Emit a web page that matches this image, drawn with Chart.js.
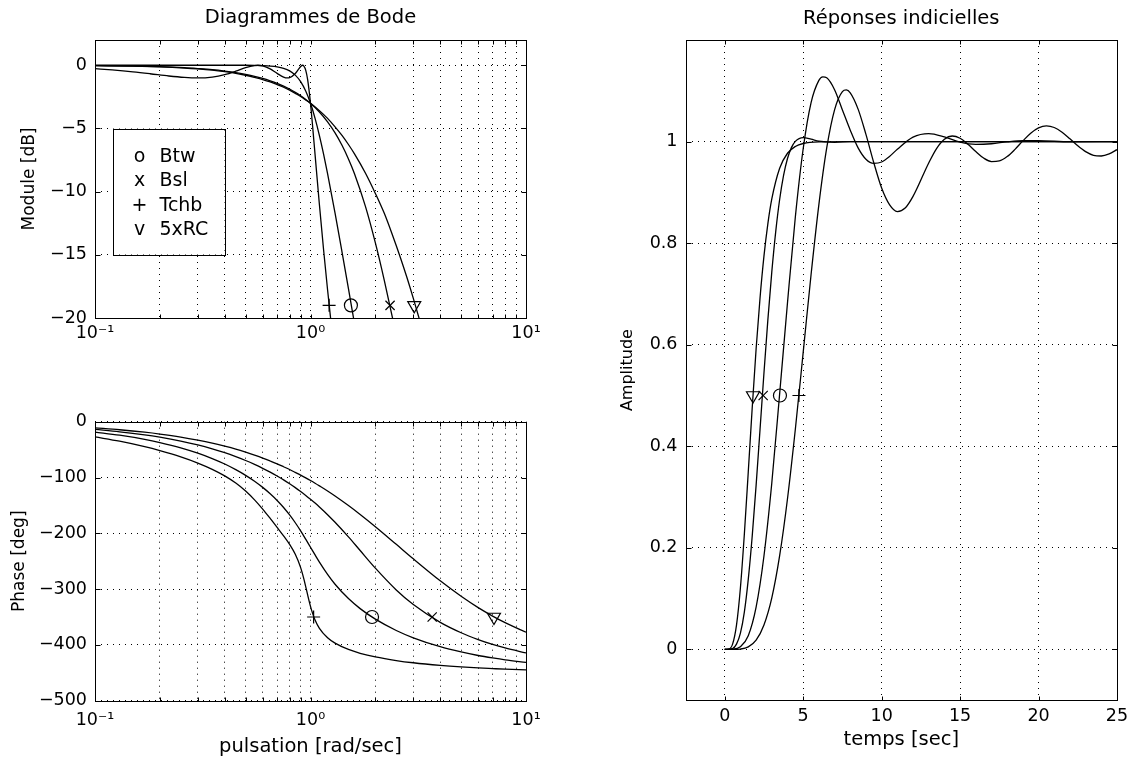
<!DOCTYPE html>
<html lang="fr">
<head>
    <meta charset="UTF-8">
    <title>Diagrammes de Bode et réponses indicielles</title>
    <script src="https://cdn.jsdelivr.net/npm/chart.js"></script>
    <style>
        body { margin: 0; background: #fff; }
        canvas { position: absolute; left: 0; top: 0; }
    </style>
</head>
<body>
    <canvas id="magChart" width="1137" height="762"></canvas>
    <canvas id="phaseChart" width="1137" height="762"></canvas>
    <canvas id="stepChart" width="1137" height="762"></canvas>

    <script>
        // ---- Module [dB] ----
        const wBtwMag = [0.1, 0.2, 0.3, 0.4, 0.5, 0.55, 0.6, 0.65, 0.7, 0.75, 0.8, 0.85, 0.9, 0.95, 1.0, 1.05, 1.1, 1.15, 1.2, 1.3, 1.4, 1.5, 1.6, 1.8];
        const magBtw = [0, 0, 0, 0, 0, -0.01, -0.03, -0.06, -0.12, -0.24, -0.44, -0.78, -1.30, -2.04, -3.01, -4.20, -5.56, -7.03, -8.57, -11.70, -14.76, -17.68, -20.45, -25.5];

        const wBslMag = [0.1, 0.15, 0.2, 0.26, 0.3, 0.35, 0.4, 0.45, 0.5, 0.55, 0.6, 0.65, 0.7, 0.75, 0.8, 0.85, 0.9, 0.95, 1.0, 1.1, 1.2, 1.3, 1.4, 1.5, 1.6, 1.8, 2.0, 2.2, 2.4, 2.6];
        const magBsl = [-0.03, -0.06, -0.11, -0.19, -0.26, -0.35, -0.46, -0.58, -0.72, -0.87, -1.04, -1.23, -1.43, -1.65, -1.88, -2.14, -2.41, -2.70, -3.01, -3.70, -4.48, -5.35, -6.33, -7.41, -8.58, -11.19, -14.06, -17.02, -19.97, -22.9];

        const wTchMag = [0.1, 0.12, 0.15, 0.18, 0.22, 0.26, 0.3, 0.35, 0.4, 0.45, 0.5, 0.55, 0.57, 0.6, 0.65, 0.7, 0.75, 0.78, 0.8, 0.85, 0.88, 0.9, 0.92, 0.93, 0.95, 0.97, 1.0, 1.02, 1.05, 1.1, 1.15, 1.2, 1.25, 1.3, 1.4];
        const magTch = [-0.27, -0.37, -0.52, -0.67, -0.85, -0.96, -1.00, -0.93, -0.74, -0.47, -0.19, -0.02, 0, -0.05, -0.29, -0.64, -0.93, -1.00, -0.98, -0.65, -0.31, -0.10, 0, -0.04, -0.38, -1.14, -3.01, -4.59, -7.07, -11.04, -14.60, -17.76, -20.6, -23.2, -27.8];

        const wRcMag = [0.1, 0.15, 0.2, 0.26, 0.3, 0.35, 0.4, 0.45, 0.5, 0.55, 0.6, 0.65, 0.7, 0.75, 0.8, 0.85, 0.9, 0.95, 1.0, 1.1, 1.2, 1.3, 1.4, 1.5, 1.6, 1.8, 2.0, 2.2, 2.4, 2.6, 2.8, 3.0, 3.2, 3.4];
        const magRc = [-0.03, -0.07, -0.13, -0.22, -0.29, -0.39, -0.51, -0.64, -0.79, -0.96, -1.13, -1.32, -1.53, -1.74, -1.97, -2.22, -2.47, -2.74, -3.01, -3.59, -4.20, -4.87, -5.55, -6.27, -7.01, -8.54, -10.14, -11.72, -13.43, -15.11, -16.78, -18.45, -20.09, -21.72];

        // ---- Phase [deg] ----
        const wPhase = [0.1, 0.13, 0.17, 0.2, 0.25, 0.3, 0.35, 0.4, 0.45, 0.5, 0.55, 0.6, 0.65, 0.7, 0.75, 0.8, 0.85, 0.9, 0.95, 1.0, 1.05, 1.1, 1.2, 1.3, 1.5, 1.7, 2.0, 2.5, 3, 4, 5, 6, 7, 8, 10];
        const phBtw = [-18.6, -24.2, -31.6, -37.3, -46.7, -56.3, -66.0, -75.8, -85.9, -96.1, -106.7, -117.7, -129.1, -141.1, -153.7, -167.1, -181.1, -195.7, -210.5, -225.0, -238.8, -251.6, -273.6, -291.3, -317.0, -335.0, -353.9, -374.2, -387.3, -403.3, -412.7, -419.0, -423.4, -426.8, -431.4];
        const phBsl = [-13.9, -18.1, -23.6, -27.8, -34.8, -41.7, -48.7, -55.6, -62.6, -69.5, -76.5, -83.5, -90.4, -97.4, -104.3, -111.3, -118.2, -125.2, -132.1, -139.0, -145.9, -152.9, -166.6, -180.2, -206.4, -230.9, -262.5, -301.5, -327.7, -359.6, -378.2, -390.4, -399.1, -405.5, -414.5];
        const phRc = [-11.0, -14.4, -18.8, -22.1, -27.5, -33.0, -38.4, -43.9, -49.2, -54.6, -59.9, -65.1, -70.4, -75.5, -80.7, -85.7, -90.8, -95.7, -100.6, -105.4, -110.2, -115.0, -124.2, -133.2, -150.3, -166.3, -188.2, -219.8, -245.8, -285.2, -312.9, -333.2, -348.4, -360.2, -377.3];

        const wTchPh = [0.1, 0.13, 0.17, 0.2, 0.25, 0.3, 0.35, 0.4, 0.45, 0.5, 0.55, 0.6, 0.65, 0.7, 0.75, 0.8, 0.85, 0.9, 0.93, 0.95, 0.97, 1.0, 1.02, 1.05, 1.1, 1.2, 1.3, 1.5, 1.7, 2.0, 2.5, 3, 4, 5, 6, 7, 8, 10];
        const phTch = [-27.3, -35.0, -44.8, -51.9, -63.1, -74.1, -85.3, -97.1, -110.0, -124.3, -140.1, -156.7, -173.4, -189.4, -204.6, -220.0, -237.7, -261.5, -280.7, -295.4, -310.4, -330.9, -342.1, -355.4, -370.4, -387.3, -396.9, -408.2, -415.0, -421.5, -428.0, -432.0, -436.7, -439.5, -441.3, -442.5, -443.5, -444.8];

        // ---- Réponses indicielles ----
        const tBtw = [0, 0.5, 1, 1.5, 2, 2.5, 3, 3.5, 4, 4.5, 5, 5.5, 6, 6.25, 6.5, 7, 7.5, 8, 8.5, 9, 9.5, 10, 10.5, 11, 12, 13, 14, 15, 16, 17, 18, 19, 20, 22, 25];
        const stepBtw = [0, 0.0003, 0.0051, 0.027, 0.0833, 0.1839, 0.3276, 0.5033, 0.6825, 0.8515, 0.9858, 1.0763, 1.1205, 1.1275, 1.1256, 1.1022, 1.0622, 1.0225, 0.9876, 0.9652, 0.9571, 0.9598, 0.9706, 0.9849, 1.0088, 1.0157, 1.0093, 0.9988, 0.9944, 0.9957, 0.9995, 1.0018, 1.0018, 0.9995, 1.0];

        const tBsl = [0, 0.5, 0.75, 1, 1.25, 1.5, 1.75, 2, 2.25, 2.5, 2.75, 3, 3.25, 3.5, 3.75, 4, 4.25, 4.5, 5, 5.5, 6, 7, 8, 25];
        const stepBsl = [0, 0.0018, 0.0104, 0.0322, 0.0735, 0.138, 0.2224, 0.3231, 0.4331, 0.5443, 0.6494, 0.7434, 0.8227, 0.8859, 0.9333, 0.9666, 0.9881, 1.0004, 1.0077, 1.0048, 1.0008, 0.9986, 0.9998, 1.0];

        const tTch = [0, 0.5, 1, 1.5, 2, 2.5, 3, 3.5, 4, 4.5, 5, 5.5, 6, 6.5, 7, 7.5, 7.75, 8, 8.5, 9, 9.5, 10, 10.5, 11, 11.5, 12, 13, 13.5, 14, 14.5, 15, 15.5, 16, 16.5, 17, 17.5, 18, 18.5, 19, 19.5, 20, 20.5, 21, 21.5, 22, 22.5, 23, 23.5, 24, 24.5, 25];
        const stepTch = [0, 0, 0.0007, 0.0049, 0.0182, 0.0481, 0.1015, 0.1846, 0.2967, 0.4336, 0.5848, 0.7372, 0.8759, 0.9874, 1.0625, 1.0984, 1.1016, 1.096, 1.0639, 1.0141, 0.9583, 0.9084, 0.8757, 0.8622, 0.8691, 0.892, 0.9579, 0.9863, 1.0046, 1.011, 1.0065, 0.9947, 0.9804, 0.9675, 0.9607, 0.9618, 0.9704, 0.9847, 1.0013, 1.0165, 1.027, 1.0309, 1.0277, 1.0184, 1.0054, 0.9916, 0.9801, 0.973, 0.9716, 0.9757, 0.9841];

        const tRc = [0, 0.25, 0.5, 0.75, 1, 1.25, 1.5, 1.75, 2, 2.25, 2.5, 2.75, 3, 3.5, 4, 4.5, 5, 6, 8, 25];
        const stepRc = [0, 0.0005, 0.0105, 0.0479, 0.1215, 0.2268, 0.3494, 0.475, 0.5914, 0.6921, 0.7744, 0.8384, 0.887, 0.9476, 0.977, 0.9904, 0.9962, 0.9994, 1.0, 1.0];

        // Marqueurs (ordre : Btw, Bsl, Tchb, 5xRC)
        const magMarkW = [1.54, 2.34, 1.22, 3.03];
        const magMarkY = -19;
        const phMarkW = [1.93, 3.67, 1.034, 7.1];
        const phMarkY = -350;
        const stepMarkT = [3.52, 2.45, 4.73, 1.8];
        const stepMarkY = 0.5;

        // Légende
        const legendSymbols = ['o', 'x', '+', 'v'];
        const legendNames = ['Btw', 'Bsl', 'Tchb', '5xRC'];

        // Graduations
        const bodeTicks = [0.1, 0.2, 0.3, 0.4, 0.5, 0.6, 0.7, 0.8, 0.9, 1, 2, 3, 4, 5, 6, 7, 8, 9, 10];
        const bodeDecades = [0.1, 1, 10];
        const bodeDecadeLabels = ['10\u207B\u00B9', '10\u2070', '10\u00B9'];
        const magTicks = [-20, -15, -10, -5, 0];
        const phaseTicks = [-500, -400, -300, -200, -100, 0];
        const timeTicks = [0, 5, 10, 15, 20, 25];
        const ampTicks = [0, 0.2, 0.4, 0.6, 0.8, 1];

        Chart.defaults.font.family = "'DejaVu Sans', sans-serif";
        Chart.defaults.color = '#000';

        const TICK_SIZE = 17.5;
        const TEXT_SIZE = 19.5;

        const markerStyles = [
            { shape: 'circle', r: 6.5, rot: 0 },
            { shape: 'crossRot', r: 6.5, rot: 0 },
            { shape: 'cross', r: 6.5, rot: 0 },
            { shape: 'triangle', r: 7.5, rot: 180 }
        ];

        function minus(v) {
            return String(v).replace('-', '\u2212');
        }

        function curve(xs, ys) {
            return {
                data: xs.map((x, i) => ({ x: x, y: ys[i] })),
                showLine: true,
                borderColor: '#000',
                borderWidth: 1.3,
                pointRadius: 0,
                cubicInterpolationMode: 'monotone',
                fill: false
            };
        }

        function markers(xs, y) {
            return xs.map((x, i) => ({
                data: [{ x: x, y: y }],
                showLine: false,
                pointStyle: markerStyles[i].shape,
                pointRadius: markerStyles[i].r,
                pointRotation: markerStyles[i].rot,
                pointBorderColor: '#000',
                pointBackgroundColor: 'rgba(0,0,0,0)',
                pointBorderWidth: 1.2
            }));
        }

        const dotted = { display: false, dash: [1, 5] };
        const gridOpts = { color: '#000', lineWidth: 1, drawTicks: false };

        function logAxis(labelPad, height, title, titlePadBottom) {
            return {
                type: 'logarithmic',
                min: 0.1,
                max: 10,
                afterBuildTicks: s => { s.ticks = bodeTicks.map(v => ({ value: v })); },
                afterFit: s => { s.height = height; },
                grid: gridOpts,
                border: dotted,
                ticks: {
                    autoSkip: false, maxRotation: 0, minRotation: 0,
                    padding: labelPad,
                    font: { size: TICK_SIZE },
                    callback: v => {
                        const i = bodeDecades.findIndex(d => Math.abs(d - v) < 1e-9);
                        return i >= 0 ? bodeDecadeLabels[i] : '';
                    }
                },
                title: title ? { display: true, text: title, font: { size: TEXT_SIZE }, padding: { top: 0, bottom: titlePadBottom } } : { display: false }
            };
        }

        function valueAxis(min, max, tickList, width, title, titleSize, titlePadTop) {
            return {
                type: 'linear',
                min: min,
                max: max,
                afterBuildTicks: s => { s.ticks = tickList.map(v => ({ value: v })); },
                afterFit: s => { s.width = width; },
                grid: gridOpts,
                border: dotted,
                ticks: { padding: 8, font: { size: TICK_SIZE }, callback: v => minus(v) },
                title: { display: true, text: title, font: { size: titleSize }, padding: { top: titlePadTop, bottom: 0 } }
            };
        }

        // Cadre + petites graduations internes
        const framePlugin = {
            id: 'frame',
            afterDraw(chart) {
                const { ctx, chartArea: a, scales } = chart;
                const L = Math.round(a.left) + 0.5, R = Math.round(a.right) + 0.5;
                const T = Math.round(a.top) + 0.5, B = Math.round(a.bottom) + 0.5;
                ctx.save();
                ctx.strokeStyle = '#000';
                ctx.lineWidth = 1;
                ctx.setLineDash([]);
                ctx.strokeRect(L, T, R - L, B - T);
                ctx.beginPath();
                scales.x.ticks.forEach(t => {
                    const px = Math.round(scales.x.getPixelForValue(t.value)) + 0.5;
                    ctx.moveTo(px, B); ctx.lineTo(px, B - 4);
                    ctx.moveTo(px, T); ctx.lineTo(px, T + 4);
                });
                scales.y.ticks.forEach(t => {
                    const py = Math.round(scales.y.getPixelForValue(t.value)) + 0.5;
                    ctx.moveTo(L, py); ctx.lineTo(L + 5, py);
                    ctx.moveTo(R, py); ctx.lineTo(R - 5, py);
                });
                ctx.stroke();
                ctx.restore();
            }
        };

        // Légende encadrée du diagramme de module
        const legendBox = {
            id: 'legendBox',
            afterDraw(chart) {
                const { ctx, chartArea: a } = chart;
                const x0 = a.left + 17.5, y0 = a.top + 88.5;
                ctx.save();
                ctx.fillStyle = '#fff';
                ctx.fillRect(x0, y0, 112, 126);
                ctx.strokeStyle = '#000';
                ctx.lineWidth = 1;
                ctx.strokeRect(Math.round(x0) + 0.5, Math.round(y0) + 0.5, 112, 126);
                ctx.fillStyle = '#000';
                ctx.font = "19px 'DejaVu Sans', sans-serif";
                ctx.textBaseline = 'middle';
                legendSymbols.forEach((s, i) => {
                    const y = y0 + 28.5 + i * 24.5;
                    ctx.textAlign = 'center';
                    ctx.fillText(s, x0 + 27, y);
                    ctx.textAlign = 'left';
                    ctx.fillText(legendNames[i], x0 + 47, y);
                });
                ctx.restore();
            }
        };

        const common = {
            responsive: false,
            animation: false,
            events: []
        };

        // Module
        new Chart(document.getElementById('magChart'), {
            type: 'scatter',
            data: {
                datasets: [
                    curve(wBtwMag, magBtw),
                    curve(wBslMag, magBsl),
                    curve(wTchMag, magTch),
                    curve(wRcMag, magRc),
                    ...markers(magMarkW, magMarkY)
                ]
            },
            options: {
                ...common,
                layout: { padding: { left: 0, top: 0, right: 611, bottom: 404 } },
                plugins: {
                    legend: { display: false },
                    tooltip: { enabled: false },
                    title: {
                        display: true, text: 'Diagrammes de Bode', fullSize: false,
                        font: { size: TEXT_SIZE, weight: 'normal' }, color: '#000',
                        padding: { top: 6.6, bottom: 10 }
                    }
                },
                scales: {
                    x: logAxis(5, 40, null, 0),
                    y: valueAxis(-20, 2, magTicks, 95, 'Module [dB]', 17, 19.1)
                }
            },
            plugins: [framePlugin, legendBox]
        });

        // Phase
        new Chart(document.getElementById('phaseChart'), {
            type: 'scatter',
            data: {
                datasets: [
                    curve(wPhase, phBtw),
                    curve(wPhase, phBsl),
                    curve(wTchPh, phTch),
                    curve(wPhase, phRc),
                    ...markers(phMarkW, phMarkY)
                ]
            },
            options: {
                ...common,
                layout: { padding: { left: 0, top: 421.7, right: 611, bottom: 0 } },
                plugins: { legend: { display: false }, tooltip: { enabled: false } },
                scales: {
                    x: logAxis(9, 61.3, 'pulsation [rad/sec]', 3.6),
                    y: valueAxis(-500, 0, phaseTicks, 95, 'Phase [deg]', 17, 9.4)
                }
            },
            plugins: [framePlugin]
        });

        // Réponses indicielles
        new Chart(document.getElementById('stepChart'), {
            type: 'scatter',
            data: {
                datasets: [
                    curve(tBtw, stepBtw),
                    curve(tBsl, stepBsl),
                    curve(tTch, stepTch),
                    curve(tRc, stepRc),
                    ...markers(stepMarkT, stepMarkY)
                ]
            },
            options: {
                ...common,
                layout: { padding: { left: 560, top: 0, right: 20, bottom: 0 } },
                plugins: {
                    legend: { display: false },
                    tooltip: { enabled: false },
                    title: {
                        display: true, text: 'Réponses indicielles', fullSize: false,
                        font: { size: TEXT_SIZE, weight: 'normal' }, color: '#000',
                        padding: { top: 7.7, bottom: 8.9 }
                    }
                },
                scales: {
                    x: {
                        type: 'linear', min: -2.5, max: 25,
                        afterBuildTicks: s => { s.ticks = timeTicks.map(v => ({ value: v })); },
                        afterFit: s => { s.height = 61.8; },
                        grid: gridOpts,
                        border: dotted,
                        ticks: { padding: 6, autoSkip: false, maxRotation: 0, font: { size: TICK_SIZE }, callback: v => minus(v) },
                        title: { display: true, text: 'temps [sec]', font: { size: TEXT_SIZE }, padding: { top: 0, bottom: 10.1 } }
                    },
                    y: valueAxis(-0.1, 1.2, ampTicks, 125.5, 'Amplitude', 16, 58.4)
                }
            },
            plugins: [framePlugin]
        });
    </script>
</body>
</html>
